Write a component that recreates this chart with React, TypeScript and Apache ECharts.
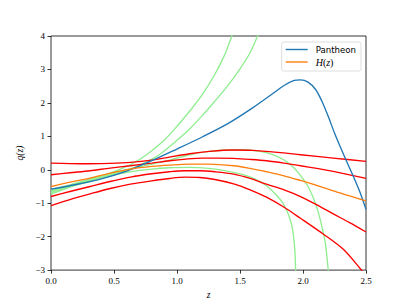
import React, { useEffect, useRef } from "react";
import * as echarts from "echarts";

const xTicks = [0, 0.5, 1.0, 1.5, 2.0, 2.5];
const yTicks = [-3, -2, -1, 0, 1, 2, 3, 4];

const pantheon: number[][] = [
  [0, -0.58], [0.2, -0.44], [0.4, -0.27], [0.6, -0.04], [0.8, 0.27], [1.0, 0.62],
  [1.2, 0.98], [1.4, 1.37], [1.6, 1.85], [1.75, 2.25], [1.85, 2.52], [1.93, 2.67],
  [1.98, 2.69], [2.04, 2.62], [2.1, 2.4], [2.15, 2.05], [2.2, 1.6], [2.25, 1.1],
  [2.3, 0.65], [2.35, 0.22], [2.4, -0.2], [2.45, -0.65], [2.5, -1.18],
];

const hz: number[][] = [
  [0, -0.5], [0.15, -0.37], [0.31, -0.25], [0.47, -0.1], [0.63, 0.02], [0.8, 0.1],
  [0.94, 0.14], [1.1, 0.17], [1.25, 0.17], [1.45, 0.12], [1.58, 0.04], [1.71, -0.06],
  [1.85, -0.18], [1.98, -0.32], [2.12, -0.48], [2.24, -0.63], [2.37, -0.78], [2.5, -0.93],
];

const redA: number[][] = [
  [0, 0.2], [0.15, 0.185], [0.31, 0.18], [0.47, 0.19], [0.63, 0.22], [0.8, 0.29],
  [0.94, 0.38], [1.1, 0.48], [1.26, 0.55], [1.45, 0.59], [1.6, 0.58], [1.8, 0.52],
  [1.98, 0.45], [2.24, 0.35], [2.5, 0.25],
];

const redB: number[][] = [
  [0, -0.15], [0.15, -0.09], [0.31, -0.03], [0.47, 0.05], [0.63, 0.12], [0.8, 0.2],
  [0.94, 0.27], [1.07, 0.32], [1.2, 0.35], [1.32, 0.35], [1.45, 0.34], [1.58, 0.31],
  [1.71, 0.27], [1.85, 0.2], [1.98, 0.12], [2.11, 0.04], [2.24, -0.05], [2.37, -0.15],
  [2.5, -0.26],
];

const redC: number[][] = [
  [0, -0.8], [0.15, -0.65], [0.31, -0.5], [0.47, -0.35], [0.63, -0.22], [0.8, -0.12],
  [0.94, -0.06], [1.06, -0.03], [1.18, -0.03], [1.3, -0.06], [1.45, -0.13],
  [1.58, -0.26], [1.71, -0.43], [1.85, -0.6], [1.98, -0.8], [2.11, -1.05],
  [2.24, -1.32], [2.37, -1.58], [2.5, -1.86],
];

const redD: number[][] = [
  [0, -1.07], [0.15, -0.89], [0.31, -0.72], [0.47, -0.56], [0.63, -0.43], [0.8, -0.33],
  [0.94, -0.26], [1.06, -0.22], [1.18, -0.23], [1.3, -0.29], [1.45, -0.42],
  [1.58, -0.6], [1.71, -0.82], [1.85, -1.12], [1.98, -1.45], [2.16, -1.92],
  [2.32, -2.38], [2.46, -2.98], [2.5, -3.15],
];

const green1: number[][] = [
  [0, -0.68], [0.15, -0.5], [0.31, -0.3], [0.47, -0.1], [0.6, 0.1], [0.7, 0.3],
  [0.8, 0.57], [0.9, 0.89], [1.0, 1.3], [1.1, 1.75], [1.2, 2.25], [1.3, 2.85],
  [1.38, 3.45], [1.435, 4.0], [1.48, 4.45],
];

const green2: number[][] = [
  [0, -0.63], [0.15, -0.48], [0.31, -0.32], [0.47, -0.15], [0.63, 0.02], [0.75, 0.22],
  [0.87, 0.48], [1.0, 0.88], [1.1, 1.22], [1.2, 1.62], [1.3, 2.05], [1.4, 2.5],
  [1.5, 3.02], [1.58, 3.5], [1.64, 4.0], [1.7, 4.5],
];

const green3: number[][] = [
  [0, -0.73], [0.15, -0.52], [0.31, -0.35], [0.47, -0.18], [0.63, -0.06], [0.8, 0.02],
  [0.94, 0.06], [1.1, 0.07], [1.25, 0.04], [1.4, -0.04], [1.52, -0.14], [1.62, -0.28],
  [1.71, -0.48], [1.79, -0.76], [1.84, -1.0], [1.88, -1.3], [1.91, -1.65],
  [1.925, -2.0], [1.935, -2.4], [1.94, -2.8], [1.942, -3.2],
];

const green4: number[][] = [
  [0, -0.6], [0.15, -0.45], [0.31, -0.28], [0.47, -0.12], [0.63, 0.03], [0.8, 0.17],
  [0.94, 0.29], [1.1, 0.45], [1.25, 0.55], [1.4, 0.59], [1.53, 0.6], [1.66, 0.55],
  [1.77, 0.44], [1.86, 0.27], [1.93, 0.05], [1.99, -0.22], [2.04, -0.5], [2.08, -0.82],
  [2.12, -1.25], [2.15, -1.7], [2.175, -2.15], [2.19, -2.6], [2.2, -3.0], [2.202, -3.2],
];

const BLUE = "#1f77b4";
const ORANGE = "#ff7f0e";
const GREEN = "#90ee90";
const RED = "#ff0000";
const LW = 1.35;
const SERIF = "'Liberation Serif', 'DejaVu Serif', serif";

function line(name: string, data: number[][], color: string, z: number) {
  return {
    name,
    type: "line",
    data,
    symbol: "none",
    showSymbol: false,
    smooth: 0.3,
    clip: true,
    z,
    lineStyle: { color, width: LW },
    itemStyle: { color },
    emphasis: { disabled: true },
  };
}

export default function App() {
  const ref = useRef<HTMLDivElement>(null);
  useEffect(() => {
    if (!ref.current) return;
    const chart = echarts.init(ref.current, undefined, { renderer: "svg" });
    const fmtY = (v: number) => (v < 0 ? "\u2212" + Math.abs(v) : String(v));
    chart.setOption({
      animation: false,
      backgroundColor: "#ffffff",
      grid: {
        left: 51,
        right: 41,
        top: 36,
        bottom: 33.5,
        show: true,
        borderColor: "#000",
        borderWidth: 0.8,
        backgroundColor: "transparent",
      },
      legend: {
        orient: "vertical",
        right: 46,
        top: 42,
        data: [
          { name: "Pantheon", icon: "rect", itemStyle: { color: BLUE } },
          { name: "H(z)", icon: "rect", itemStyle: { color: ORANGE } },
        ],
        itemWidth: 22,
        itemHeight: 1.4,
        itemGap: 3,
        padding: [3, 5, 4, 4],
        backgroundColor: "#fff",
        borderColor: "#d6d6d6",
        borderWidth: 0.8,
        borderRadius: 2,
        selectedMode: false,
        formatter: (name: string) =>
          name === "H(z)" ? "{i|H}{m|(}{i|z}{m|)}" : name,
        textStyle: {
          fontFamily: "'DejaVu Sans', sans-serif",
          fontSize: 8.6,
          color: "#000",
          padding: [0, 0, 0, 3],
          rich: {
            i: { fontFamily: SERIF, fontStyle: "italic", fontSize: 10, color: "#000" },
            m: { fontFamily: SERIF, fontSize: 10, color: "#000" },
          },
        },
      },
      xAxis: {
        type: "value",
        min: 0,
        max: 2.5,
        interval: 0.5,
        name: "z",
        nameLocation: "middle",
        nameGap: 18,
        nameTextStyle: { fontFamily: SERIF, fontStyle: "italic", fontSize: 9.5, color: "#000" },
        axisLine: { show: false, onZero: false },
        splitLine: { show: false },
        axisTick: { show: true, inside: false, length: 3.5, lineStyle: { color: "#000", width: 0.8 } },
        axisLabel: {
          margin: 6,
          fontFamily: SERIF,
          fontSize: 9,
          color: "#000",
          formatter: (v: number) => (xTicks.includes(v) ? v.toFixed(1) : ""),
        },
      },
      yAxis: {
        type: "value",
        min: -3,
        max: 4,
        interval: 1,
        name: "q(z)",
        nameLocation: "middle",
        nameGap: 26,
        nameRotate: 90,
        nameTextStyle: { fontFamily: SERIF, fontStyle: "italic", fontSize: 9.5, color: "#000" },
        axisLine: { show: false, onZero: false },
        splitLine: { show: false },
        axisTick: { show: true, inside: false, length: 3.5, lineStyle: { color: "#000", width: 0.8 } },
        axisLabel: {
          margin: 6,
          fontFamily: SERIF,
          fontSize: 9,
          color: "#000",
          formatter: (v: number) => (yTicks.includes(v) ? fmtY(v) : ""),
        },
      },
      series: [
        line("g1", green1, GREEN, 2),
        line("g2", green2, GREEN, 2),
        line("g3", green3, GREEN, 2),
        line("g4", green4, GREEN, 2),
        line("Pantheon", pantheon, BLUE, 4),
        line("H(z)", hz, ORANGE, 4),
        line("r1", redA, RED, 3),
        line("r2", redB, RED, 3),
        line("r3", redC, RED, 3),
        line("r4", redD, RED, 3),
      ],
    });
    return () => chart.dispose();
  }, []);
  return (
    <div
      ref={ref}
      style={{ position: "fixed", left: 0, top: 0, width: 407, height: 305 }}
    />
  );
}
